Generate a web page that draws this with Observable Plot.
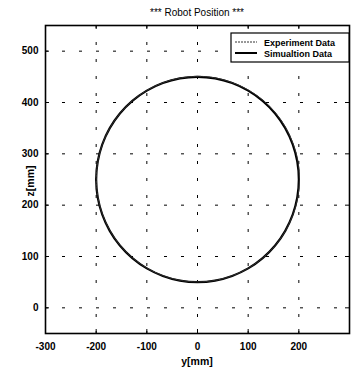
<!DOCTYPE html>
<html><head><meta charset="utf-8">
<script src="https://cdn.jsdelivr.net/npm/d3@7"></script>
<script src="https://cdn.jsdelivr.net/npm/@observablehq/plot@0.6"></script>
<style>body{margin:0;background:#fff}</style>
</head><body><div id="chart"></div>
<script>
// Simulation data (y, z in mm)
const simY = [0, 34.7, 68.4, 100, 128.6, 153.2, 173.2, 187.9, 197.0, 200, 197.0, 187.9, 173.2, 153.2, 128.6, 100, 68.4, 34.7,
              0, -34.7, -68.4, -100, -128.6, -153.2, -173.2, -187.9, -197.0, -200, -197.0, -187.9, -173.2, -153.2, -128.6, -100, -68.4, -34.7];
const simZ = [450, 447.0, 437.9, 423.2, 403.2, 378.6, 350, 318.4, 284.7, 250, 215.3, 181.6, 150, 121.4, 96.8, 76.8, 62.1, 53.0,
              50, 53.0, 62.1, 76.8, 96.8, 121.4, 150, 181.6, 215.3, 250, 284.7, 318.4, 350, 378.6, 403.2, 423.2, 437.9, 447.0];
// Experiment data (y, z in mm)
const expY = [1, 35.5, 69.0, 100.8, 129.5, 154.0, 174.1, 188.8, 198.2, 201.0, 198.0, 188.5, 173.8, 153.9, 129.0, 100.5, 68.9, 35.0,
              0.5, -34.2, -68.0, -99.6, -128.1, -152.8, -172.6, -187.4, -196.5, -199.5, -196.6, -187.5, -172.8, -152.6, -128.0, -99.5, -67.9, -34.1];
const expZ = [451, 447.8, 438.6, 424.0, 404.0, 379.5, 350.8, 319.2, 285.4, 250.6, 216.0, 182.2, 150.6, 122.0, 97.4, 77.3, 62.6, 53.5,
              50.6, 53.6, 62.7, 77.4, 97.3, 121.9, 150.5, 182.0, 215.8, 250.4, 285.2, 318.9, 350.5, 379.1, 403.8, 423.8, 438.5, 447.6];
const xTicks = [-300, -200, -100, 0, 100, 200];
const yTicks = [0, 100, 200, 300, 400, 500];
const seriesNames = ["Experiment Data", "Simualtion Data"];
const titleText = "*** Robot Position ***";
const xLabel = "y[mm]";
const yLabel = "z[mm]";

const sim = simY.map((y, i) => ({y, z: simZ[i]}));
const exp = expY.map((y, i) => ({y, z: expZ[i]}));

const W = 359, H = 372, mL = 45, mR = 10, mT = 25, mB = 39;
const plotH = H - mT - mB, plotW = W - mL - mR;
const font = "Liberation Sans, Arial, sans-serif";
const fmt = d => String(d);

const chart = Plot.plot({
  width: W, height: H,
  marginLeft: mL, marginRight: mR, marginTop: mT, marginBottom: mB,
  style: {fontFamily: font, fontSize: "10px", fontWeight: "bold", color: "black", background: "white"},
  x: {domain: [-300, 300]},
  y: {domain: [-50, 550]},
  marks: [
    Plot.gridX(xTicks.slice(1), {stroke: "black", strokeOpacity: 1, strokeWidth: 1, strokeDasharray: "3,14"}),
    Plot.gridY(yTicks, {stroke: "black", strokeOpacity: 1, strokeWidth: 1, strokeDasharray: "3,14"}),
    Plot.axisX(xTicks, {tickSize: 0, tickPadding: 9, label: null, tickFormat: fmt}),
    Plot.axisY(yTicks, {tickSize: 0, tickPadding: 7, label: null, tickFormat: fmt}),
    // inward ticks on all four sides
    Plot.tickX(xTicks, {x: d => d, insetTop: plotH - 4, stroke: "black"}),
    Plot.tickX(xTicks, {x: d => d, insetBottom: plotH - 4, stroke: "black"}),
    Plot.tickY(yTicks, {y: d => d, insetRight: plotW - 4, stroke: "black"}),
    Plot.tickY(yTicks, {y: d => d, insetLeft: plotW - 4, stroke: "black"}),
    Plot.line(sim, {x: "y", y: "z", curve: "catmull-rom-closed", stroke: "black", strokeWidth: 2.2}),
    Plot.line(exp, {x: "y", y: "z", curve: "catmull-rom-closed", stroke: "#333", strokeWidth: 1, strokeDasharray: "2,1"}),
    Plot.frame({stroke: "black", strokeWidth: 1.6})
  ]
});

const svg = d3.select(chart);
svg.append("text").attr("x", mL + plotW / 2).attr("y", 16).attr("text-anchor", "middle")
  .attr("font-family", font).attr("font-size", 10).attr("font-weight", "normal").text(titleText);
svg.append("text").attr("x", mL + plotW / 2).attr("y", 365).attr("text-anchor", "middle")
  .attr("font-family", font).attr("font-size", 10.5).attr("font-weight", "bold").text(xLabel);
svg.append("text").attr("transform", `translate(34,${mT + plotH / 2 + 2}) rotate(-90)`).attr("text-anchor", "middle")
  .attr("font-family", font).attr("font-size", 10.5).attr("font-weight", "bold").text(yLabel);

// legend
const lg = svg.append("g").attr("font-family", font).attr("font-size", 9).attr("font-weight", "bold").attr("text-anchor", "start");
lg.append("rect").attr("x", 231).attr("y", 33).attr("width", W - mR - 231).attr("height", 29)
  .attr("fill", "white").attr("stroke", "black").attr("stroke-width", 1.2);
const styles = [{w: 1, dash: "2,1", c: "#333"}, {w: 2, dash: null, c: "black"}];
seriesNames.forEach((name, i) => {
  const yy = 42 + i * 11;
  lg.append("line").attr("x1", 235).attr("x2", 257).attr("y1", yy).attr("y2", yy)
    .attr("stroke", styles[i].c).attr("stroke-width", styles[i].w).attr("stroke-dasharray", styles[i].dash);
  lg.append("text").attr("x", 264).attr("y", yy + 3.5).attr("text-anchor", "start").text(name);
});

document.getElementById("chart").appendChild(chart);
</script>
</body></html>
